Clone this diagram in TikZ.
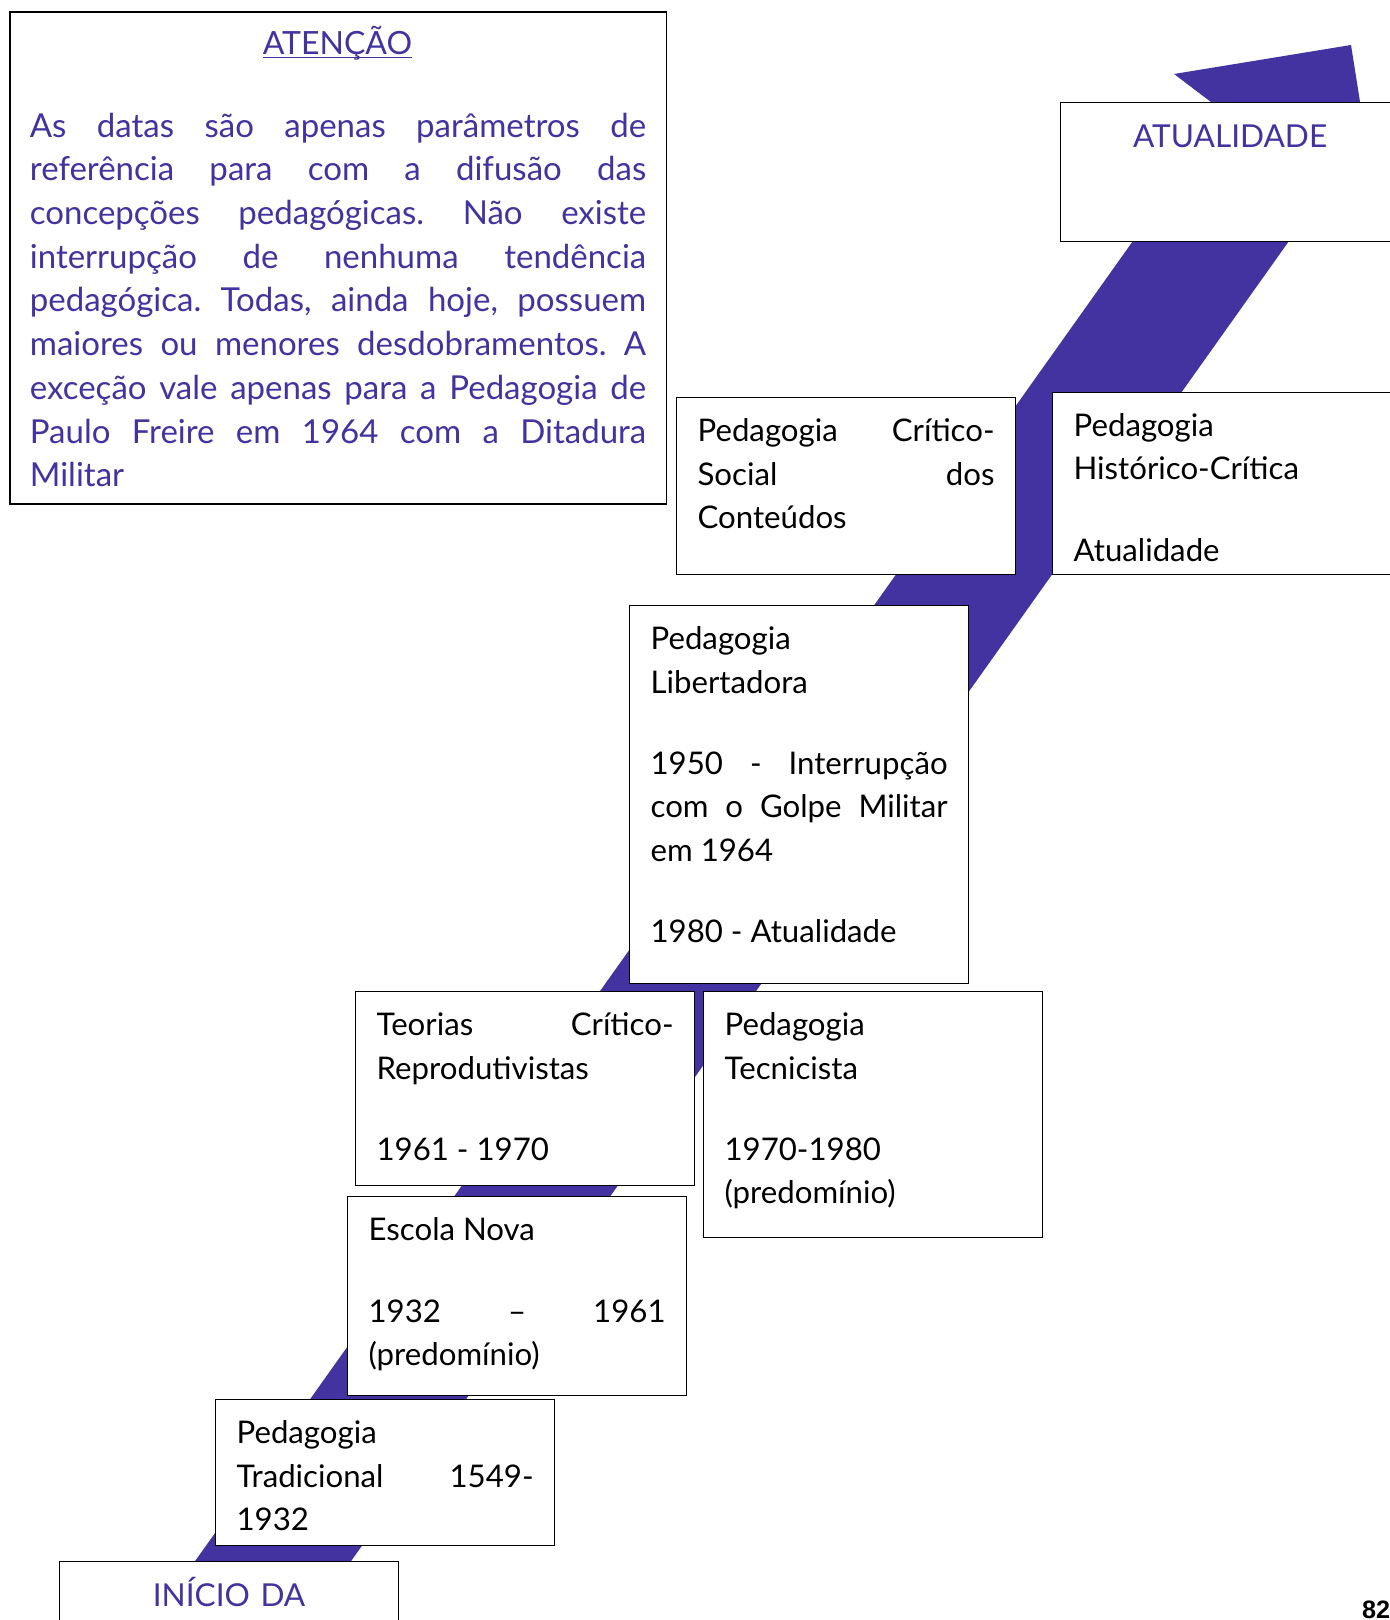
\documentclass[tikz,border=0pt]{standalone}
\usepackage{fontspec}
\setmainfont{Lato}
\newfontfamily\paginafonte{Liberation Sans}
\definecolor{roxo}{RGB}{66,51,161}
\newcommand\textocaixa{\fontsize{15.6}{21.7}\selectfont\frenchspacing\hyphenpenalty=10000\exhyphenpenalty=10000\tolerance=9999}
\newcommand\textoaviso{\fontsize{16.5}{21.85}\selectfont\frenchspacing\hyphenpenalty=10000\exhyphenpenalty=10000\tolerance=9999}

\begin{document}
\begin{tikzpicture}[x=1pt, y=-1pt,
	caixa/.style={draw, fill=white, line width=0.6pt, anchor=north west, inner xsep=10.5pt, inner ysep=0pt,
		text width=148.5pt, align=justify, text height=22pt, font=\textocaixa},
	marco/.style={caixa, align=center, text=roxo, text height=22.5pt, font=\fontsize{15.8}{20}\selectfont}]
	\useasboundingbox (0,0) rectangle (695,810);
	% faixa roxa por tras das caixas
	\fill[roxo] (69.5,820) -- (612.2,56.1) -- (587,37) -- (675.5,22.5) -- (682.55,66.95) -- (147.5,820) -- cycle;
	\node[caixa, text width=308.15pt, inner xsep=10pt, text height=62.6pt, text depth=183.4pt, text=roxo, font=\textoaviso] (aviso) at (4.65,5.7)
		{As datas são apenas parâmetros de\linebreak referência para com a difusão das\linebreak concepções pedagógicas. Não existe\linebreak interrupção de nenhuma tendência\linebreak pedagógica. Todas, ainda hoje, possuem\linebreak maiores ou menores desdobramentos. A\linebreak exceção vale apenas para a Pedagogia de\linebreak Paulo Freire em 1964 com a Ditadura\linebreak Militar};
	\node[anchor=base, text=roxo, font=\fontsize{16}{20}\selectfont] (avisotitulo) at (168.7,27.5) {\underline{\smash{ATENÇÃO}}};
	\node[marco, text depth=47pt] (atualidade) at (530,51) {ATUALIDADE};
	\node[caixa, text depth=66.25pt] (critico) at (338,198.5) {Pedagogia Crítico-\linebreak Social dos\linebreak Conteúdos};
	\node[caixa, text depth=68.8pt] (historico) at (526,196) {Pedagogia\\Histórico-Crítica\\[19pt]Atualidade};
	\node[caixa, text depth=166.75pt] (libertadora) at (314.5,302.5) {Pedagogia\\Libertadora\\[19pt]1950 - Interrupção\linebreak com o Golpe Militar\linebreak em 1964\\[19pt]1980 - Atualidade};
	\node[caixa, text depth=75pt] (teorias) at (177.5,495.5) {Teorias Crítico-\linebreak Reprodutivistas\\[19pt]1961 - 1970};
	\node[caixa, text depth=101pt] (tecnicista) at (351.5,495.5) {Pedagogia\\Tecnicista\\[19pt]1970-1980\\(predomínio)};
	\node[caixa, text depth=77.5pt] (escolanova) at (173.5,598) {Escola Nova\\[19pt]1932 – 1961\linebreak (predomínio)};
	\node[caixa, text depth=51pt] (tradicional) at (107.5,699.5) {Pedagogia\\Tradicional 1549-\linebreak 1932};
	\node[marco, text depth=40pt] (inicio) at (29.5,780.5) {INÍCIO DA};
	\node[anchor=base west, font=\paginafonte\fontsize{12.6}{14}\selectfont\bfseries] (pagina) at (677.5,809) {82};
\end{tikzpicture}
\end{document}
